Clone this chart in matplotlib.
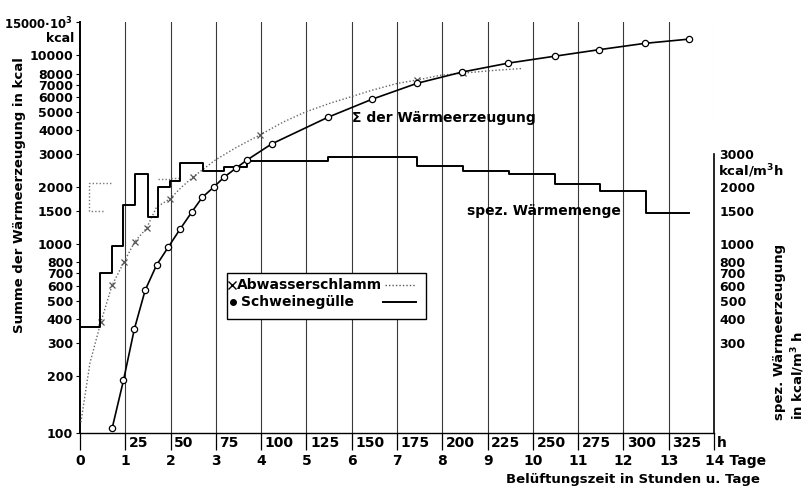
import numpy as np
import matplotlib
matplotlib.use("Agg")
import matplotlib.pyplot as plt
import matplotlib.transforms as mtransforms
from matplotlib.patches import Rectangle

plt.rcParams['font.family'] = ['DejaVu Sans']
plt.rcParams['font.weight'] = 'bold'

# Summe der Waermeerzeugung (10^3 kcal) - Schweineguelle
sg_tage = [0.71, 0.96, 1.2, 1.44, 1.69, 1.95, 2.21, 2.47, 2.7, 2.95, 3.18, 3.44, 3.68,
           4.23, 5.47, 6.45, 7.44, 8.43, 9.45, 10.49, 11.46, 12.47, 13.44]
sg_summe = [106, 190, 355, 571, 774, 965, 1200, 1480, 1770, 2000, 2260, 2520, 2780,
            3390, 4690, 5850, 7100, 8140, 9080, 9890, 10700, 11560, 12170]

# Summe der Waermeerzeugung - Abwasserschlamm
as_tage = [0.02, 0.22, 0.46, 0.71, 0.97, 1.21, 1.47, 1.69, 1.99, 2.24, 2.49, 2.98, 3.45,
           3.97, 4.48, 4.97, 5.52, 6.45, 7.0, 7.45, 7.95, 8.45, 9.1, 9.76]
as_summe = [114, 235, 386, 607, 803, 1030, 1215, 1570, 1740, 2000, 2260, 2780, 3250,
            3780, 4420, 5000, 5570, 6530, 7090, 7400, 7830, 8040, 8300, 8510]
as_marker_tage = [0.46, 0.71, 0.97, 1.21, 1.47, 1.99, 2.49, 3.97, 7.45, 8.45]
as_marker_summe = [386, 607, 803, 1030, 1215, 1740, 2260, 3780, 7400, 8040]

# spez. Waermemenge (kcal/m3 h) - Schweineguelle, Stufen
sg_stufen_grenzen = [0, 0.44, 0.71, 0.95, 1.21, 1.5, 1.73, 1.99, 2.21, 2.72, 3.18, 3.68,
                     5.47, 7.44, 8.45, 9.47, 10.49, 11.48, 12.5, 13.44]
sg_spez = [364, 700, 975, 1610, 2340, 1390, 2000, 2150, 2690, 2450, 2570, 2750,
           2890, 2590, 2430, 2340, 2080, 1900, 1460]

# spez. Waermemenge - Abwasserschlamm (nur Anfang lesbar)
as_spez_tage = [0.5, 0.2, 0.2, 0.72]
as_spez = [1500, 1500, 2100, 2100]
as_spez2_tage = [1.73, 1.99, 1.99, 2.21]
as_spez2 = [2200, 2200, 2250, 2250]

links_ticks = [100, 200, 300, 400, 500, 600, 700, 800, 1000, 1500, 2000, 3000,
               4000, 5000, 6000, 7000, 8000, 10000, 15000]
links_labels = ['100', '200', '300', '400', '500', '600', '700', '800', '1000', '1500',
                '2000', '3000', '4000', '5000', '6000', '7000', '8000', '10000',
                '15000·10$^{\\mathbf{3}}$']
rechts_ticks = [300, 400, 500, 600, 700, 800, 1000, 1500, 2000, 3000]
tage = list(range(15))
stunden = [25, 50, 75, 100, 125, 150, 175, 200, 225, 250, 275, 300, 325]

fig = plt.figure(figsize=(8.07, 4.93), dpi=100)
ax = fig.add_axes([80 / 807, 60 / 493, 634 / 807, 411 / 493])
ax.set_yscale('log')
ax.set_xlim(0, 14)
ax.set_ylim(100, 15000)

# senkrechte Tageslinien
for d in tage[1:14]:
    ax.axvline(d, color='#3a3a3a', lw=0.8, zorder=1)
ax.axvline(14, ymin=0.77, color='#999999', lw=0.8, ls=':', zorder=1)

# Summenkurven
ax.plot(as_tage, as_summe, color='#666666', lw=1.0, ls=(0, (1, 1.5)), zorder=3)
ax.plot(as_marker_tage, as_marker_summe, ls='none', marker='x', ms=5, mew=0.9,
        color='#555555', zorder=4)
ax.plot(sg_tage, sg_summe, color='black', lw=1.2, marker='o', ms=4.5,
        mfc='white', mec='black', mew=0.9, zorder=5)

# Stufenkurven spez. Waermemenge
sg_x = np.repeat(sg_stufen_grenzen, 2)[1:-1]
sg_y = np.repeat(sg_spez, 2)
ax.plot(sg_x, sg_y, color='black', lw=1.4, zorder=4)
ax.plot(as_spez_tage, as_spez, color='#777777', lw=1.0, ls=(0, (1, 1.5)), zorder=3)
ax.plot(as_spez2_tage, as_spez2, color='#777777', lw=1.0, ls=(0, (1, 1.5)), zorder=3)

# Achsen
for s in ['top', 'right']:
    ax.spines[s].set_visible(False)
ax.spines['left'].set_linewidth(1.4)
ax.spines['bottom'].set_linewidth(1.0)
ax.set_yticks(links_ticks)
ax.set_yticklabels(links_labels)
ax.minorticks_off()
ax.tick_params(axis='y', direction='out', length=3, width=0.8, pad=2, labelsize=9)
ax.get_yticklabels()[-1].set_fontsize(8.5)
ax.set_xticks(tage)
ax.set_xticklabels([str(d) for d in tage[:14]] + [''])
ax.tick_params(axis='x', direction='out', length=12, width=0.9, pad=3, labelsize=10)

ax2 = ax.twinx()
ax2.set_yscale('log')
ax2.set_ylim(100, 15000)
for s in ['top', 'left', 'bottom']:
    ax2.spines[s].set_visible(False)
ax2.spines['right'].set_bounds(100, 3000)
ax2.spines['right'].set_linewidth(1.2)
ax2.set_yticks(rechts_ticks)
ax2.set_yticklabels([str(v) for v in rechts_ticks])
ax2.minorticks_off()
ax2.tick_params(axis='y', length=0, pad=4, labelsize=9)

trans = mtransforms.blended_transform_factory(ax.transData, ax.transAxes)
for k, h in enumerate(stunden, start=1):
    ax.text(k + 0.08, -0.025, str(h), transform=trans, ha='left', va='center', fontsize=10)
ax.text(14 + 0.06, -0.025, 'h', transform=trans, ha='left', va='center', fontsize=10)
ax.text(14 - 0.2, -0.068, '14 Tage', transform=trans, ha='left', va='center', fontsize=10)

fig.text(74 / 807, 1 - 38 / 493, 'kcal', ha='right', va='center', fontsize=9)
fig.text(718 / 807, 1 - 171 / 493, 'kcal/m$^{\\mathbf{3}}$h', ha='left', va='center', fontsize=9.5)

ax.text(6.0, 4640, 'Σ der Wärmeerzeugung', ha='left', va='center', fontsize=10)
ax.text(8.55, 1500, 'spez. Wärmemenge', ha='left', va='center', fontsize=10)

fig.text(20 / 807, 1 - 195 / 493, 'Summe der Wärmeerzeugung in kcal', rotation=90,
         ha='center', va='center', fontsize=9.5)
fig.text(790 / 807, 1 - 420 / 493, 'spez. Wärmeerzeugung\nin kcal/m$^{\\mathbf{3}}$ h',
         rotation=90, ha='center', va='bottom', multialignment='left', fontsize=9.5)
fig.text(760 / 807, 1 - 480 / 493, 'Belüftungszeit in Stunden u. Tage',
         ha='right', va='center', fontsize=9.5)

# Legende
lx0, lx1 = (227 - 80) / 634, (426 - 80) / 634
ly0, ly1 = (433 - 319) / 411, (433 - 273) / 411
ax.add_patch(Rectangle((lx0, ly0), lx1 - lx0, ly1 - ly0, transform=ax.transAxes,
                       facecolor='white', edgecolor='black', lw=1.0, zorder=6))
ya, yb = (433 - 285) / 411, (433 - 302) / 411
ax.plot([(232 - 80) / 634], [ya], transform=ax.transAxes, marker='x', ms=6, mew=1.0,
        color='black', zorder=7)
ax.plot([(233 - 80) / 634], [yb], transform=ax.transAxes, marker='o', ms=4,
        color='black', zorder=7)
ax.text((237 - 80) / 634, ya, 'Abwasserschlamm', transform=ax.transAxes, ha='left',
        va='center', fontsize=10, zorder=7)
ax.text((241 - 80) / 634, yb, 'Schweinegülle', transform=ax.transAxes, ha='left',
        va='center', fontsize=10, zorder=7)
ax.plot([(385 - 80) / 634, (415 - 80) / 634], [ya, ya], transform=ax.transAxes,
        color='#555555', lw=1.0, ls=(0, (1, 1.5)), zorder=7)
ax.plot([(383 - 80) / 634, (416 - 80) / 634], [yb, yb], transform=ax.transAxes,
        color='black', lw=1.4, zorder=7)

fig.savefig('out.png', dpi=100)
